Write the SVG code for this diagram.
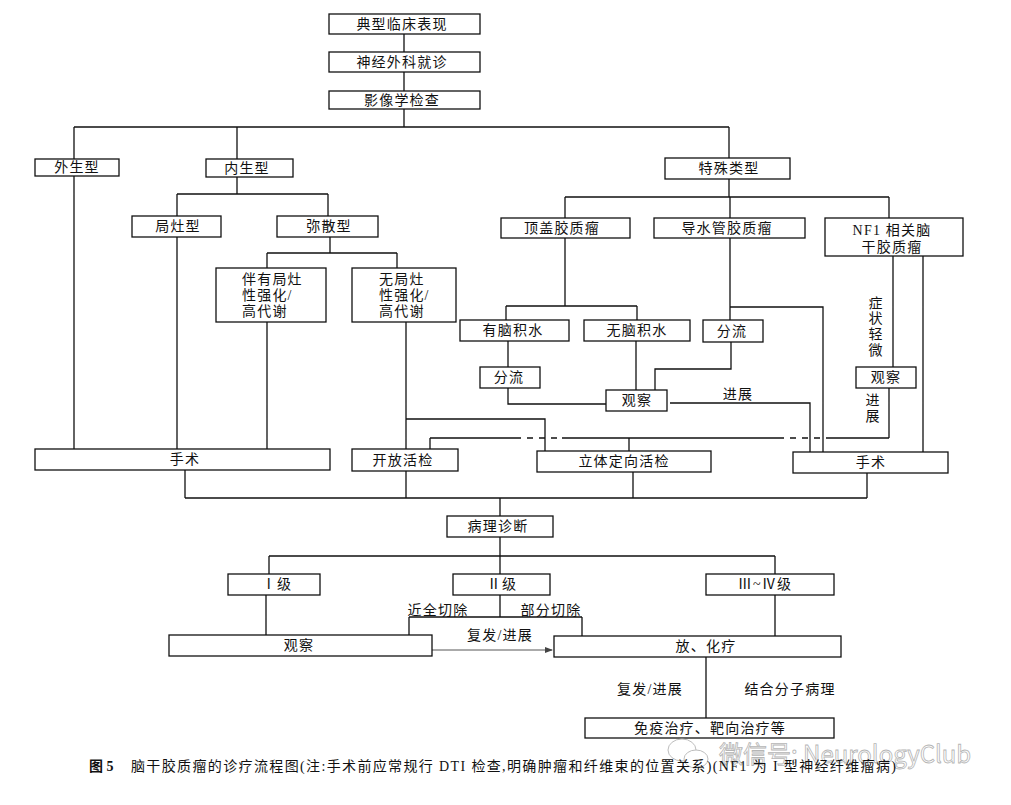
<svg xmlns="http://www.w3.org/2000/svg" width="1011" height="805" viewBox="0 0 1011 805">
<style>
.b{fill:#fff;stroke:#111;stroke-width:1.3}
.t{font-family:"Liberation Serif","Noto Sans CJK SC",serif;font-size:14px;fill:#111;text-anchor:middle;letter-spacing:1.2px}
.l{font-family:"Liberation Serif","Noto Sans CJK SC",serif;font-size:14px;fill:#111;letter-spacing:1.2px}
.c{fill:none;stroke:#111;stroke-width:1.3}
.d{fill:none;stroke:#111;stroke-width:1.3;stroke-dasharray:6 6}
.cap{font-family:"Liberation Serif","Noto Sans CJK SC",serif;font-size:14px;fill:#111}
</style>
<defs>
<marker id="ah" markerWidth="8" markerHeight="6" refX="7" refY="3" orient="auto" markerUnits="userSpaceOnUse">
<path d="M0 0L8 3L0 6Z" fill="#444"/>
</marker>
</defs>
<rect width="1011" height="805" fill="#fff"/>
<g id="connectors">
<path class="c" d="M404 34V52M404 72V91M404 109V127M74 127H729M74 127V159M237 127V159M729 127V158M74 176V449M237 177V194M177 194H328M177 194V216M328 194V216M177 237V449M330 237V253M267 253H397M267 253V268M397 253V268M267 322V449M406 322V449M406 419H545V451M430 438V449M430 438H515M562 438H778M830 438H889M729 179V197M565 197H889M565 197V218M730 197V218M889 197V218M565 238V306M506 306H637M506 306V320M637 306V320M730 238V320M730 307H823V452M508 341V367M508 388V404H606M636 341V390M731 342V369H655V390M670 403H810V452M893 256V367M923 256V452M889 388V438M629 438V451M185 470V498M406 471V498M633 472V498M867 473V498M185 498H867M500 498V516M500 537V556M269 556H775M269 556V574M500 556V574M775 556V574M266 595V635M500 595V617M409 617H582M409 617V635M582 617V636M775 595V636M706 657V718"/>
<path class="d" d="M515 438H562M778 438H830"/>
<path d="M432 650H552" fill="none" stroke="#444" stroke-width="0.9" marker-end="url(#ah)"/>
</g>
<g id="n1"><rect class="b" x="329" y="14" width="151" height="20"/><text class="t" x="402" y="29">典型临床表现</text></g>
<g id="n2"><rect class="b" x="329" y="52" width="151" height="20"/><text class="t" x="402" y="67">神经外科就诊</text></g>
<g id="n3"><rect class="b" x="329" y="91" width="151" height="18"/><text class="t" x="402" y="105">影像学检查</text></g>
<g id="n4"><rect class="b" x="35" y="159" width="84" height="17"/><text class="t" x="77" y="172">外生型</text></g>
<g id="n5"><rect class="b" x="206" y="159" width="87" height="18"/><text class="t" x="247" y="173">内生型</text></g>
<g id="n6"><rect class="b" x="665" y="158" width="125" height="21"/><text class="t" x="729" y="173">特殊类型</text></g>
<g id="n7"><rect class="b" x="132" y="216" width="89" height="21"/><text class="t" x="178" y="231">局灶型</text></g>
<g id="n8"><rect class="b" x="277" y="216" width="101" height="21"/><text class="t" x="329" y="231">弥散型</text></g>
<g id="n9"><rect class="b" x="501" y="218" width="129" height="20"/><text class="t" x="562" y="233">顶盖胶质瘤</text></g>
<g id="n10"><rect class="b" x="654" y="218" width="151" height="20"/><text class="t" x="727" y="233">导水管胶质瘤</text></g>
<g id="n11"><rect class="b" x="825" y="218" width="138" height="38"/><text class="t" x="892" y="235">NF1 相关脑</text><text class="t" x="892" y="252">干胶质瘤</text></g>
<g id="n12"><rect class="b" x="216" y="268" width="110" height="54"/><text class="l" x="242" y="284">伴有局灶</text><text class="l" x="242" y="300">性强化/</text><text class="l" x="242" y="316">高代谢</text></g>
<g id="n13"><rect class="b" x="352" y="268" width="104" height="54"/><text class="l" x="379" y="284">无局灶</text><text class="l" x="379" y="300">性强化/</text><text class="l" x="379" y="316">高代谢</text></g>
<g id="n14"><rect class="b" x="460" y="320" width="109" height="21"/><text class="t" x="513" y="335">有脑积水</text></g>
<g id="n15"><rect class="b" x="584" y="320" width="106" height="21"/><text class="t" x="637" y="335">无脑积水</text></g>
<g id="n16"><rect class="b" x="703" y="320" width="60" height="22"/><text class="t" x="732" y="336">分流</text></g>
<g id="n17"><rect class="b" x="480" y="367" width="60" height="21"/><text class="t" x="509" y="382">分流</text></g>
<g id="n18"><rect class="b" x="606" y="390" width="61" height="21"/><text class="t" x="637" y="405">观察</text></g>
<g id="n19"><rect class="b" x="856" y="367" width="60" height="21"/><text class="t" x="886" y="382">观察</text></g>
<g id="n20"><rect class="b" x="35" y="449" width="295" height="21"/><text class="t" x="185" y="464">手术</text></g>
<g id="n21"><rect class="b" x="352" y="449" width="106" height="22"/><text class="t" x="403" y="465">开放活检</text></g>
<g id="n22"><rect class="b" x="537" y="451" width="174" height="21"/><text class="t" x="624" y="466">立体定向活检</text></g>
<g id="n23"><rect class="b" x="793" y="452" width="155" height="21"/><text class="t" x="871" y="467">手术</text></g>
<g id="n24"><rect class="b" x="447" y="516" width="106" height="21"/><text class="t" x="498" y="531">病理诊断</text></g>
<g id="n25"><rect class="b" x="228" y="574" width="92" height="21"/><text class="t" x="277" y="589">Ⅰ级</text></g>
<g id="n26"><rect class="b" x="453" y="574" width="97" height="21"/><text class="t" x="502" y="589">Ⅱ级</text></g>
<g id="n27"><rect class="b" x="706" y="574" width="128" height="21"/><text class="t" x="765" y="589">Ⅲ~Ⅳ级</text></g>
<g id="n28"><rect class="b" x="169" y="635" width="263" height="21"/><text class="t" x="299" y="650">观察</text></g>
<g id="n29"><rect class="b" x="554" y="636" width="287" height="21"/><text class="t" x="706" y="651">放、化疗</text></g>
<g id="n30"><rect class="b" x="585" y="718" width="249" height="20"/><text class="t" x="710" y="733">免疫治疗、靶向治疗等</text></g>
<g id="labels">
<text class="t" x="738" y="399">进展</text>
<text class="t" x="876" y="308">症</text><text class="t" x="876" y="323">状</text><text class="t" x="876" y="339">轻</text><text class="t" x="876" y="355">微</text>
<text class="t" x="873" y="405">进</text><text class="t" x="873" y="421">展</text>
<text class="t" x="438" y="615">近全切除</text>
<text class="t" x="551" y="615">部分切除</text>
<text class="t" x="500" y="640">复发/进展</text>
<text class="t" x="650" y="694">复发/进展</text>
<text class="t" x="790" y="694">结合分子病理</text>
</g>
<g id="watermark" fill="#fff" stroke="#b5b5b5" stroke-width="0.9">
<ellipse cx="682" cy="750" rx="14" ry="11"/>
<ellipse cx="696" cy="759" rx="12" ry="9"/>
<text x="719" y="763" font-family="'Noto Sans CJK SC','Liberation Sans',sans-serif" font-size="24" fill-opacity="0.5" stroke-width="0.8">微信号: NeurologyClub</text>
</g>
<g id="caption">
<text class="cap" x="89" y="771" font-weight="bold">图 5</text>
<text class="cap" x="131" y="771" textLength="765" lengthAdjust="spacing">脑干胶质瘤的诊疗流程图(注:手术前应常规行 DTI 检查,明确肿瘤和纤维束的位置关系)(NF1 为 I 型神经纤维瘤病)</text>
</g>
</svg>
